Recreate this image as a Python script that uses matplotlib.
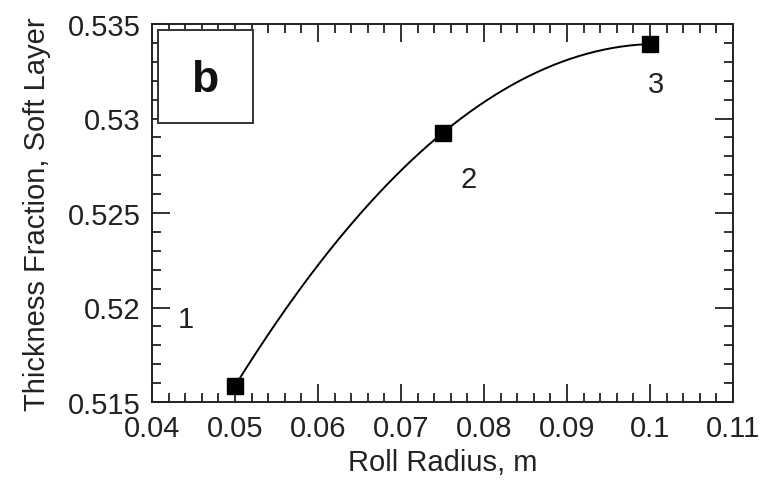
import numpy as np
import matplotlib
matplotlib.use("Agg")
import matplotlib.pyplot as plt
from matplotlib.patches import Rectangle
from matplotlib.ticker import MultipleLocator, FuncFormatter

plt.rcParams['font.family'] = ['Liberation Sans', 'DejaVu Sans']

roll_radius = [0.05, 0.075, 0.10]
soft_fraction = [0.51585, 0.52923, 0.53394]
point_labels = ["1", "2", "3"]
label_pos = [(0.0441, 0.5194), (0.0781, 0.5268), (0.1007, 0.5318)]

ink = '#222222'
fig = plt.figure(figsize=(7.64, 4.81), dpi=100)
ax = fig.add_axes([152/764, 1-403/481, (733-152)/764, (403-25)/481])

# smooth quadratic through the three cases
coef = np.polyfit(roll_radius, soft_fraction, 2)
xs = np.linspace(roll_radius[0], roll_radius[-1], 200)
ax.plot(xs, np.polyval(coef, xs), color='black', lw=1.4, zorder=2)
ax.plot(roll_radius, soft_fraction, 's', color='black', ms=11.5, zorder=3)

for t, (x, y) in zip(point_labels, label_pos):
    ax.text(x, y, t, fontsize=21, ha='center', va='center', color=ink)

ax.set_xlim(0.04, 0.11)
ax.set_ylim(0.515, 0.535)
ax.xaxis.set_major_locator(MultipleLocator(0.01))
ax.xaxis.set_minor_locator(MultipleLocator(0.002))
ax.yaxis.set_major_locator(MultipleLocator(0.005))
ax.yaxis.set_minor_locator(MultipleLocator(0.001))

def fmt(v, pos):
    return f"{v:.3f}".rstrip('0').rstrip('.')
ax.xaxis.set_major_formatter(FuncFormatter(fmt))
ax.yaxis.set_major_formatter(FuncFormatter(fmt))

ax.tick_params(which='both', direction='in', top=True, right=True,
               labelsize=21, color=ink, labelcolor=ink, width=1.3)
ax.tick_params(which='major', length=13)
ax.tick_params(which='minor', length=6.5)
ax.tick_params(axis='x', which='major', pad=9)
ax.tick_params(axis='y', which='major', pad=8)
for s in ax.spines.values():
    s.set_linewidth(1.4)
    s.set_color(ink)

ax.set_xlabel("Roll Radius, m", fontsize=21, labelpad=4, color=ink)
ax.set_ylabel("Thickness Fraction, Soft Layer", fontsize=21, labelpad=12, color=ink)

# panel tag box
box = Rectangle((158/764, 1-124/481), (253-158)/764, (124-31)/481,
                transform=fig.transFigure, facecolor='white',
                edgecolor='#333333', lw=1.4, zorder=5)
fig.patches.append(box)
fig.text(205/764, 1-80/481, "b", fontsize=32, fontweight='bold',
         ha='center', va='center', zorder=6, color='#111111')

fig.savefig("out.png", dpi=100)
